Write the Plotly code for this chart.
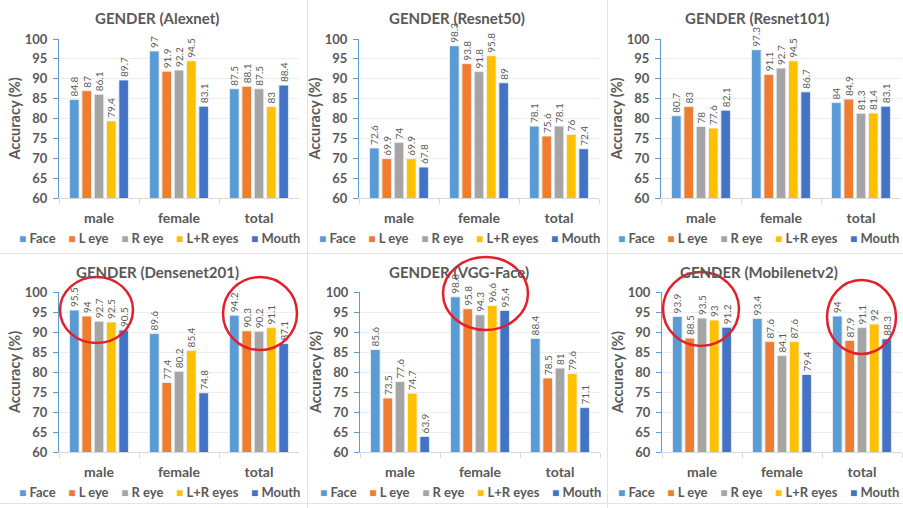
import plotly.graph_objects as go

W, H = 903, 508

categories = ["male", "female", "total"]
series = ["Face", "L eye", "R eye", "L+R eyes", "Mouth"]
colors = ["#5B9BD5", "#ED7D31", "#A5A5A5", "#FFC000", "#4472C4"]
y_ticks = [60, 65, 70, 75, 80, 85, 90, 95, 100]

titles = ["GENDER (Alexnet)", "GENDER (Resnet50)", "GENDER (Resnet101)",
          "GENDER (Densenet201)", "GENDER (VGG-Face)", "GENDER (Mobilenetv2)"]

# values per category, in series order: Face, L eye, R eye, L+R eyes, Mouth
alexnet = {"male": [84.8, 87, 86.1, 79.4, 89.7],
           "female": [97, 91.9, 92.2, 94.5, 83.1],
           "total": [87.5, 88.1, 87.5, 83, 88.4]}
resnet50 = {"male": [72.6, 69.9, 74, 69.9, 67.8],
            "female": [98.3, 93.8, 91.8, 95.8, 89],
            "total": [78.1, 75.6, 78.1, 76, 72.4]}
resnet101 = {"male": [80.7, 83, 78, 77.6, 82.1],
             "female": [97.3, 91.1, 92.7, 94.5, 86.7],
             "total": [84, 84.9, 81.3, 81.4, 83.1]}
densenet201 = {"male": [95.5, 94, 92.7, 92.5, 90.5],
               "female": [89.6, 77.4, 80.2, 85.4, 74.8],
               "total": [94.2, 90.3, 90.2, 91.1, 87.1]}
vggface = {"male": [85.6, 73.5, 77.6, 74.7, 63.9],
           "female": [98.8, 95.8, 94.3, 96.6, 95.4],
           "total": [88.4, 78.5, 81, 79.6, 71.1]}
mobilenetv2 = {"male": [93.9, 88.5, 93.5, 93, 91.2],
               "female": [93.4, 87.6, 84.1, 87.6, 79.4],
               "total": [94, 87.9, 91.1, 92, 88.3]}

models = [alexnet, resnet50, resnet101, densenet201, vggface, mobilenetv2]

# ---- layout geometry (pixels) ----
x_domains_px = [(59, 299), (359, 599), (661, 901), (59, 299), (360, 600), (662, 902)]
y_domains_px = [(39, 198)] * 3 + [(292, 452)] * 3
title_pos_px = [(157, 18), (457, 18), (757, 18), (157, 272), (459, 272), (759, 272)]
legend_pos_px = [(17, 238), (317, 238), (616, 238), (17, 492), (318, 492), (616, 492)]

GREY = "#595959"
FONT = "Lato"


def px_x(x):
    return x / W


def px_y(y):
    return 1 - y / H


fig = go.Figure()

for i, model in enumerate(models):
    n = i + 1
    xa = "x" if n == 1 else f"x{n}"
    ya = "y" if n == 1 else f"y{n}"
    for s_idx, (name, col) in enumerate(zip(series, colors)):
        vals = [model[c][s_idx] for c in categories]
        # visible bars (clipped to the plot area)
        fig.add_trace(go.Bar(
            x=categories, y=vals, name=name, xaxis=xa, yaxis=ya,
            offsetgroup=name, marker=dict(color=col, line=dict(color="rgba(255,255,255,0.7)", width=0.8)),
            showlegend=False, cliponaxis=True, hoverinfo="skip",
        ))
        # label carrier (transparent), not clipped so labels may rise above 100
        fig.add_trace(go.Bar(
            x=categories, y=vals, name=name, xaxis=xa, yaxis=ya,
            offsetgroup=name, marker=dict(color="rgba(0,0,0,0)"),
            text=[f"{v:g}" for v in vals], textposition="outside", textangle=-90,
            constraintext="none", cliponaxis=False,
            textfont=dict(family=FONT, size=10, color=GREY),
            showlegend=False, hoverinfo="skip",
        ))

    xd = x_domains_px[i]
    yd = y_domains_px[i]
    xaxis = dict(
        domain=[px_x(xd[0]), px_x(xd[1])], anchor=ya,
        type="category", categoryorder="array", categoryarray=categories,
        showline=True, linecolor="#D9D9D9", linewidth=1,
        ticks="outside", tickson="boundaries", ticklen=5, tickcolor="#D9D9D9",
        tickfont=dict(family=FONT, size=14, color=GREY, weight="bold"),
        ticklabelstandoff=7, showgrid=False, automargin=False, fixedrange=True,
    )
    yaxis = dict(
        domain=[px_y(yd[1]), px_y(yd[0])], anchor=xa,
        range=[60, 100], tickvals=y_ticks,
        showline=True, linecolor="#5B9BD5", linewidth=1,
        ticks="outside", ticklen=5, tickcolor="#5B9BD5",
        showgrid=True, gridcolor="#EDEDED", gridwidth=1, zeroline=False,
        tickfont=dict(family=FONT, size=13, color=GREY, weight="bold"),
        ticklabelstandoff=3,
        title=dict(text="Accuracy (%)", standoff=0,
                   font=dict(family=FONT, size=14.5, color=GREY, weight="bold")),
        automargin=False, fixedrange=True,
    )
    key = "" if n == 1 else str(n)
    fig.layout["xaxis" + key] = xaxis
    fig.layout["yaxis" + key] = yaxis

annotations = []
for i, t in enumerate(titles):
    tx, ty = title_pos_px[i]
    annotations.append(dict(
        text=t, x=px_x(tx), y=px_y(ty), xref="paper", yref="paper",
        xanchor="center", yanchor="middle", showarrow=False,
        font=dict(family=FONT, size=15, color=GREY, weight="bold"),
    ))

legend_parts = []
for name, col in zip(series, colors):
    legend_parts.append(f'<span style="color:{col};font-size:12px">■</span>\u00a0{name}')
legend_text = "\u00a0\u00a0\u00a0\u00a0".join(legend_parts)
for i in range(6):
    lx, ly = legend_pos_px[i]
    annotations.append(dict(
        text=legend_text, x=px_x(lx), y=px_y(ly), xref="paper", yref="paper",
        xanchor="left", yanchor="middle", showarrow=False,
        font=dict(family=FONT, size=13, color=GREY, weight="bold"),
    ))

shapes = []
# faint panel borders
for xb in (307.5, 607.5):
    shapes.append(dict(type="line", xref="paper", yref="paper",
                       x0=px_x(xb), x1=px_x(xb), y0=0, y1=1,
                       line=dict(color="#E3E3E3", width=1)))
for yb in (253.5, 503.5):
    shapes.append(dict(type="line", xref="paper", yref="paper",
                       x0=0, x1=1, y0=px_y(yb), y1=px_y(yb),
                       line=dict(color="#E3E3E3", width=1)))

# red highlight circles (pixel boxes)
circles_px = [(60, 277, 133, 343), (223, 277, 297, 350), (443, 257, 528, 330),
              (663, 272, 739, 346), (827, 280, 896, 354)]
for (x0, y0, x1, y1) in circles_px:
    shapes.append(dict(type="circle", xref="paper", yref="paper",
                       x0=px_x(x0), x1=px_x(x1), y0=px_y(y1), y1=px_y(y0),
                       line=dict(color="#E3202A", width=2.5), layer="above"))

fig.update_layout(
    width=W, height=H,
    margin=dict(l=0, r=0, t=0, b=0),
    paper_bgcolor="white", plot_bgcolor="white",
    barmode="group", bargap=0.23, bargroupgap=0.22,
    showlegend=False,
    annotations=annotations, shapes=shapes,
    font=dict(family=FONT, color=GREY),
)

fig.write_html("out.html", config={"displayModeBar": False},
               post_script="document.body.style.margin='0';document.body.style.overflow='hidden';")
